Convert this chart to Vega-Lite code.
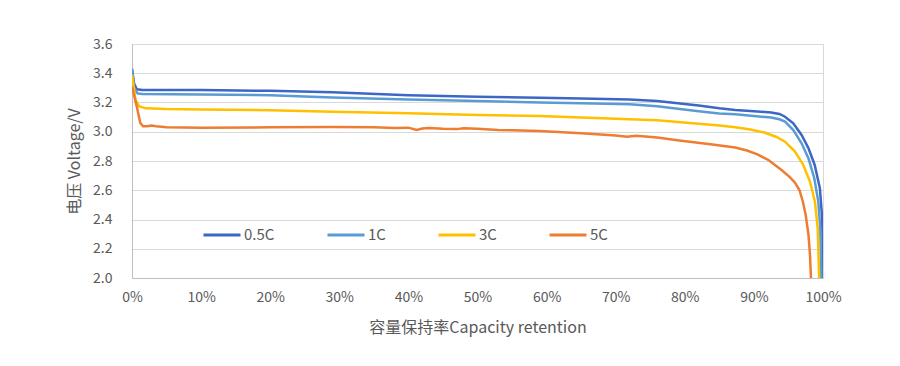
{
  "$schema": "https://vega.github.io/schema/vega-lite/v6.json",
  "autosize": "none",
  "width": 691,
  "height": 234,
  "padding": {"left": 132, "top": 44, "right": 77, "bottom": 88},
  "background": "white",
  "config": {
    "font": "Noto Sans CJK SC",
    "view": {"stroke": "#D9D9D9", "strokeWidth": 1},
    "axis": {
      "labelColor": "#595959",
      "titleColor": "#595959",
      "labelFontSize": 14,
      "titleFontSize": 16,
      "titleFontWeight": "normal",
      "gridColor": "#D9D9D9",
      "domainColor": "#BFBFBF",
      "ticks": false,
      "labelFlush": false
    },
    "legend": {
      "labelColor": "#595959",
      "labelFontSize": 15
    }
  },
  "data": {
    "values": [
      {"x": 0.0, "v": 3.43, "s": "0.5C"},
      {"x": 0.003, "v": 3.33, "s": "0.5C"},
      {"x": 0.007, "v": 3.29, "s": "0.5C"},
      {"x": 0.015, "v": 3.285, "s": "0.5C"},
      {"x": 0.10, "v": 3.285, "s": "0.5C"},
      {"x": 0.20, "v": 3.28, "s": "0.5C"},
      {"x": 0.29, "v": 3.27, "s": "0.5C"},
      {"x": 0.40, "v": 3.25, "s": "0.5C"},
      {"x": 0.50, "v": 3.24, "s": "0.5C"},
      {"x": 0.59, "v": 3.233, "s": "0.5C"},
      {"x": 0.65, "v": 3.228, "s": "0.5C"},
      {"x": 0.72, "v": 3.22, "s": "0.5C"},
      {"x": 0.76, "v": 3.21, "s": "0.5C"},
      {"x": 0.79, "v": 3.195, "s": "0.5C"},
      {"x": 0.82, "v": 3.18, "s": "0.5C"},
      {"x": 0.85, "v": 3.16, "s": "0.5C"},
      {"x": 0.873, "v": 3.149, "s": "0.5C"},
      {"x": 0.90, "v": 3.14, "s": "0.5C"},
      {"x": 0.925, "v": 3.132, "s": "0.5C"},
      {"x": 0.937, "v": 3.122, "s": "0.5C"},
      {"x": 0.945, "v": 3.103, "s": "0.5C"},
      {"x": 0.957, "v": 3.058, "s": "0.5C"},
      {"x": 0.969, "v": 2.978, "s": "0.5C"},
      {"x": 0.979, "v": 2.887, "s": "0.5C"},
      {"x": 0.988, "v": 2.773, "s": "0.5C"},
      {"x": 0.9955, "v": 2.613, "s": "0.5C"},
      {"x": 0.9985, "v": 2.43, "s": "0.5C"},
      {"x": 0.9997, "v": 2.225, "s": "0.5C"},
      {"x": 1.0, "v": 2.0, "s": "0.5C"},

      {"x": 0.0, "v": 3.43, "s": "1C"},
      {"x": 0.003, "v": 3.30, "s": "1C"},
      {"x": 0.008, "v": 3.262, "s": "1C"},
      {"x": 0.015, "v": 3.258, "s": "1C"},
      {"x": 0.10, "v": 3.255, "s": "1C"},
      {"x": 0.20, "v": 3.25, "s": "1C"},
      {"x": 0.29, "v": 3.235, "s": "1C"},
      {"x": 0.40, "v": 3.22, "s": "1C"},
      {"x": 0.50, "v": 3.21, "s": "1C"},
      {"x": 0.59, "v": 3.20, "s": "1C"},
      {"x": 0.65, "v": 3.195, "s": "1C"},
      {"x": 0.72, "v": 3.188, "s": "1C"},
      {"x": 0.76, "v": 3.175, "s": "1C"},
      {"x": 0.79, "v": 3.158, "s": "1C"},
      {"x": 0.82, "v": 3.14, "s": "1C"},
      {"x": 0.85, "v": 3.125, "s": "1C"},
      {"x": 0.873, "v": 3.119, "s": "1C"},
      {"x": 0.90, "v": 3.108, "s": "1C"},
      {"x": 0.925, "v": 3.097, "s": "1C"},
      {"x": 0.937, "v": 3.085, "s": "1C"},
      {"x": 0.945, "v": 3.069, "s": "1C"},
      {"x": 0.957, "v": 3.012, "s": "1C"},
      {"x": 0.969, "v": 2.921, "s": "1C"},
      {"x": 0.979, "v": 2.818, "s": "1C"},
      {"x": 0.9874, "v": 2.682, "s": "1C"},
      {"x": 0.9932, "v": 2.522, "s": "1C"},
      {"x": 0.9961, "v": 2.34, "s": "1C"},
      {"x": 0.9975, "v": 2.0, "s": "1C"},

      {"x": 0.0, "v": 3.39, "s": "3C"},
      {"x": 0.005, "v": 3.22, "s": "3C"},
      {"x": 0.01, "v": 3.175, "s": "3C"},
      {"x": 0.02, "v": 3.16, "s": "3C"},
      {"x": 0.05, "v": 3.155, "s": "3C"},
      {"x": 0.10, "v": 3.152, "s": "3C"},
      {"x": 0.20, "v": 3.147, "s": "3C"},
      {"x": 0.29, "v": 3.137, "s": "3C"},
      {"x": 0.40, "v": 3.127, "s": "3C"},
      {"x": 0.50, "v": 3.115, "s": "3C"},
      {"x": 0.59, "v": 3.108, "s": "3C"},
      {"x": 0.65, "v": 3.098, "s": "3C"},
      {"x": 0.72, "v": 3.085, "s": "3C"},
      {"x": 0.76, "v": 3.078, "s": "3C"},
      {"x": 0.79, "v": 3.067, "s": "3C"},
      {"x": 0.82, "v": 3.055, "s": "3C"},
      {"x": 0.85, "v": 3.043, "s": "3C"},
      {"x": 0.873, "v": 3.03, "s": "3C"},
      {"x": 0.895, "v": 3.015, "s": "3C"},
      {"x": 0.915, "v": 2.995, "s": "3C"},
      {"x": 0.932, "v": 2.966, "s": "3C"},
      {"x": 0.945, "v": 2.932, "s": "3C"},
      {"x": 0.9595, "v": 2.864, "s": "3C"},
      {"x": 0.9715, "v": 2.773, "s": "3C"},
      {"x": 0.9812, "v": 2.658, "s": "3C"},
      {"x": 0.9884, "v": 2.52, "s": "3C"},
      {"x": 0.9923, "v": 2.34, "s": "3C"},
      {"x": 0.9944, "v": 2.0, "s": "3C"},

      {"x": 0.0, "v": 3.31, "s": "5C"},
      {"x": 0.003, "v": 3.25, "s": "5C"},
      {"x": 0.007, "v": 3.17, "s": "5C"},
      {"x": 0.012, "v": 3.06, "s": "5C"},
      {"x": 0.016, "v": 3.037, "s": "5C"},
      {"x": 0.022, "v": 3.038, "s": "5C"},
      {"x": 0.028, "v": 3.042, "s": "5C"},
      {"x": 0.035, "v": 3.037, "s": "5C"},
      {"x": 0.05, "v": 3.03, "s": "5C"},
      {"x": 0.10, "v": 3.028, "s": "5C"},
      {"x": 0.20, "v": 3.03, "s": "5C"},
      {"x": 0.29, "v": 3.032, "s": "5C"},
      {"x": 0.35, "v": 3.03, "s": "5C"},
      {"x": 0.38, "v": 3.025, "s": "5C"},
      {"x": 0.40, "v": 3.028, "s": "5C"},
      {"x": 0.412, "v": 3.012, "s": "5C"},
      {"x": 0.42, "v": 3.022, "s": "5C"},
      {"x": 0.43, "v": 3.026, "s": "5C"},
      {"x": 0.45, "v": 3.02, "s": "5C"},
      {"x": 0.47, "v": 3.018, "s": "5C"},
      {"x": 0.48, "v": 3.024, "s": "5C"},
      {"x": 0.50, "v": 3.02, "s": "5C"},
      {"x": 0.53, "v": 3.012, "s": "5C"},
      {"x": 0.55, "v": 3.01, "s": "5C"},
      {"x": 0.59, "v": 3.005, "s": "5C"},
      {"x": 0.65, "v": 2.99, "s": "5C"},
      {"x": 0.70, "v": 2.975, "s": "5C"},
      {"x": 0.716, "v": 2.966, "s": "5C"},
      {"x": 0.73, "v": 2.972, "s": "5C"},
      {"x": 0.76, "v": 2.96, "s": "5C"},
      {"x": 0.792, "v": 2.94, "s": "5C"},
      {"x": 0.81, "v": 2.93, "s": "5C"},
      {"x": 0.84, "v": 2.913, "s": "5C"},
      {"x": 0.873, "v": 2.892, "s": "5C"},
      {"x": 0.89, "v": 2.872, "s": "5C"},
      {"x": 0.905, "v": 2.845, "s": "5C"},
      {"x": 0.921, "v": 2.807, "s": "5C"},
      {"x": 0.94, "v": 2.738, "s": "5C"},
      {"x": 0.952, "v": 2.69, "s": "5C"},
      {"x": 0.9595, "v": 2.652, "s": "5C"},
      {"x": 0.966, "v": 2.60, "s": "5C"},
      {"x": 0.971, "v": 2.52, "s": "5C"},
      {"x": 0.975, "v": 2.43, "s": "5C"},
      {"x": 0.979, "v": 2.294, "s": "5C"},
      {"x": 0.9812, "v": 2.157, "s": "5C"},
      {"x": 0.9826, "v": 2.0, "s": "5C"}
    ]
  },
  "mark": {"type": "line", "strokeWidth": 2.5, "clip": true},
  "encoding": {
    "x": {
      "field": "x",
      "type": "quantitative",
      "scale": {"domain": [0, 1], "nice": false},
      "axis": {
        "values": [0, 0.1, 0.2, 0.3, 0.4, 0.5, 0.6, 0.7, 0.8, 0.9, 1],
        "format": ".0%",
        "grid": false,
        "labelPadding": 12,
        "titlePadding": 15,
        "title": "容量保持率Capacity retention"
      }
    },
    "y": {
      "field": "v",
      "type": "quantitative",
      "scale": {"domain": [2.0, 3.6], "nice": false, "zero": false},
      "axis": {
        "values": [2.0, 2.2, 2.4, 2.6, 2.8, 3.0, 3.2, 3.4, 3.6],
        "format": ".1f",
        "labelPadding": 20,
        "titlePadding": 10,
        "title": "电压 Voltage/V"
      }
    },
    "color": {
      "field": "s",
      "type": "nominal",
      "scale": {
        "domain": ["0.5C", "1C", "3C", "5C"],
        "range": ["#3D67C6", "#5B9BD5", "#FFC000", "#ED7D31"]
      },
      "legend": {
        "title": null,
        "orient": "none",
        "direction": "horizontal",
        "legendX": 70,
        "legendY": 171,
        "symbolType": "stroke",
        "symbolSize": 1369,
        "symbolStrokeWidth": 3,
        "labelOffset": 2,
        "columnPadding": 46,
        "padding": 0
      }
    }
  }
}
